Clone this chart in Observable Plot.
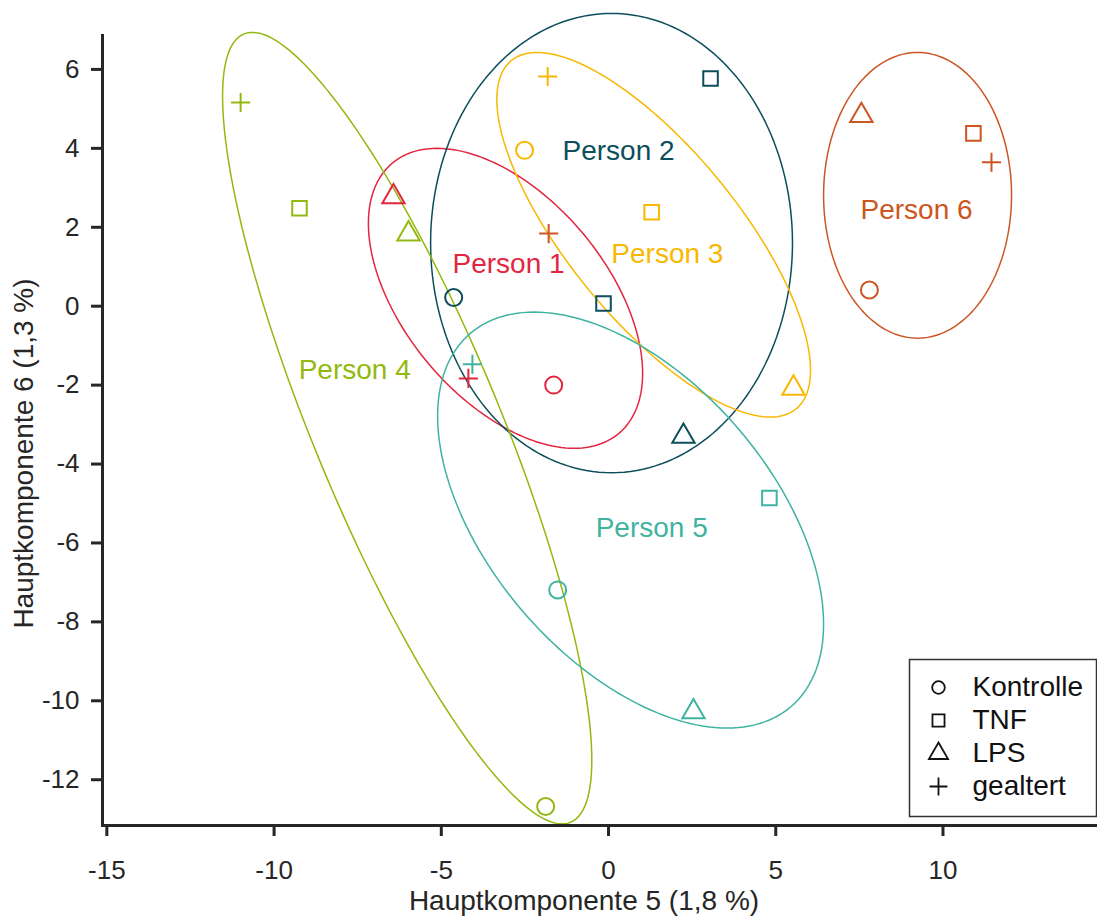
<!DOCTYPE html>
<html>
<head>
<meta charset="utf-8">
<script src="https://cdn.jsdelivr.net/npm/d3@7"></script>
<script src="https://cdn.jsdelivr.net/npm/@observablehq/plot@0.6"></script>
<style>
  body { margin: 0; background: #fff; }
  #wrap { position: relative; width: 1097px; height: 916px; font-family: "Liberation Sans", Arial, sans-serif; }
  #legend { position: absolute; left: 909px; top: 659px; }
  svg { overflow: visible; }
</style>
</head>
<body>
<div id="wrap"><div id="chart"></div><div id="legend"></div></div>
<script>
// ---- categories ----
const persons = ["Person 1", "Person 2", "Person 3", "Person 4", "Person 5", "Person 6"];
const personColors = ["#e2263f", "#0c4e5b", "#f8b700", "#93b910", "#3fb3a0", "#cc5522"];
const treatments = ["Kontrolle", "TNF", "LPS", "gealtert"];
const treatmentSymbols = ["circle", "square", "triangle", "plus"];

// ---- sample points (PC5, PC6) ----
const pointPerson = [
  "Person 1", "Person 1", "Person 1", "Person 6",
  "Person 2", "Person 2", "Person 2", "Person 2",
  "Person 3", "Person 3", "Person 3", "Person 3",
  "Person 4", "Person 4", "Person 4", "Person 4",
  "Person 5", "Person 5", "Person 5", "Person 5",
  "Person 6", "Person 6", "Person 6", "Person 6"
];
const pointTreatment = [
  "LPS", "Kontrolle", "gealtert", "gealtert",
  "Kontrolle", "TNF", "TNF", "LPS",
  "gealtert", "Kontrolle", "TNF", "LPS",
  "gealtert", "TNF", "LPS", "Kontrolle",
  "gealtert", "Kontrolle", "TNF", "LPS",
  "LPS", "TNF", "gealtert", "Kontrolle"
];
const pointPC5 = [
  -6.43, -1.64, -4.19, -1.79,
  -4.63, -0.15, 3.05, 2.24,
  -1.82, -2.51, 1.29, 5.53,
  -11.0, -9.24, -5.98, -1.88,
  -4.07, -1.52, 4.81, 2.54,
  7.56, 10.91, 11.45, 7.80
];
const pointPC6 = [
  2.77, -2.0, -1.83, 1.84,
  0.22, 0.07, 5.77, -3.30,
  5.82, 3.95, 2.38, -2.08,
  5.16, 2.48, 1.83, -12.68,
  -1.47, -7.19, -4.86, -10.28,
  4.83, 4.38, 3.65, 0.41
];

// ---- group ellipses (centre, half extents in x and y, phase between x and y) ----
const ellipseCx = [-3.08, 0.09, 1.35, -6.02, 0.66, 9.24];
const ellipseCy = [0.20, 1.60, 1.81, -3.09, -5.42, 2.81];
const ellipseAx = [4.10, 5.41, 4.69, 5.52, 5.77, 2.81];
const ellipseAy = [3.80, 5.82, 4.62, 10.03, 5.27, 3.62];
const ellipsePhase = [120, 90, 138, 147, 120, 90];

// ---- group labels ----
const labelPC5 = [-2.99, 0.30, 1.76, -7.59, 1.29, 9.21];
const labelPC6 = [1.06, 3.92, 1.32, -1.62, -5.62, 2.43];

// ---- axes ----
const xTicks = [-15, -10, -5, 0, 5, 10];
const yTicks = [-12, -10, -8, -6, -4, -2, 0, 2, 4, 6];
const xTitle = "Hauptkomponente 5 (1,8 %)";
const yTitle = "Hauptkomponente 6 (1,3 %)";

// ---- build tables ----
const points = pointPC5.map((x, i) => ({x, y: pointPC6[i], person: pointPerson[i], treatment: pointTreatment[i]}));
const labels = persons.map((p, i) => ({person: p, x: labelPC5[i], y: labelPC6[i]}));
const outline = [];
persons.forEach((p, i) => {
  const d = ellipsePhase[i] * Math.PI / 180;
  const n = 180;
  for (let k = 0; k < n; k++) {
    const t = 2 * Math.PI * k / n;
    outline.push({person: p, x: ellipseCx[i] + ellipseAx[i] * Math.cos(t), y: ellipseCy[i] + ellipseAy[i] * Math.cos(t - d)});
  }
});

const ink = "#262626";
const mainR = {Kontrolle: 8.5, TNF: 8.2, LPS: 8.3, gealtert: 6.2};
const legendR = {Kontrolle: 6.3, TNF: 6.8, LPS: 7.1, gealtert: 5.8};

const chart = Plot.plot({
  width: 1097,
  height: 916,
  marginLeft: 102,
  marginRight: 0,
  marginTop: 35,
  marginBottom: 91,
  style: {fontFamily: "Liberation Sans, Arial, sans-serif", fontSize: "26px", color: ink, background: "#fff"},
  x: {domain: [-15.13, 14.62]},
  y: {domain: [-13.16, 6.86]},
  color: {domain: persons, range: personColors},
  symbol: {domain: treatments, range: treatmentSymbols},
  marks: [
    Plot.line(outline, {x: "x", y: "y", z: "person", stroke: "person", curve: "linear-closed", strokeWidth: 1.5}),
    ...treatments.map(t => Plot.dot(points.filter(d => d.treatment === t), {
      x: "x", y: "y", stroke: "person", symbol: "treatment", r: mainR[t], strokeWidth: 2, fill: "none"
    })),
    Plot.text(labels, {x: "x", y: "y", text: "person", fill: "person", fontSize: 28}),
    Plot.axisX({ticks: xTicks, tickFormat: d => String(d), tickSize: 11, tickPadding: 24, strokeWidth: 3, fontSize: 26, label: null}),
    Plot.axisY({ticks: yTicks, tickFormat: d => String(d), tickSize: 11, tickPadding: 12, strokeWidth: 3, fontSize: 26, label: null}),
    Plot.frame({anchor: "left", stroke: ink, strokeWidth: 3}),
    Plot.frame({anchor: "bottom", stroke: ink, strokeWidth: 3}),
    Plot.text([xTitle], {frameAnchor: "bottom", textAnchor: "middle", lineAnchor: "middle", dx: -16, dy: 76, fontSize: 28, fill: ink}),
    Plot.text([yTitle], {frameAnchor: "left", textAnchor: "middle", lineAnchor: "middle", rotate: -90, dx: -78, dy: 23, fontSize: 28, fill: ink})
  ]
});
document.getElementById("chart").append(chart);

const legend = Plot.plot({
  width: 187,
  height: 157,
  margin: 0,
  style: {fontFamily: "Liberation Sans, Arial, sans-serif", fontSize: "28px", color: "#111", background: "#fff"},
  y: {type: "point", domain: treatments, range: [27, 128], padding: 0, axis: null},
  symbol: {domain: treatments, range: treatmentSymbols},
  marks: [
    Plot.frame({stroke: "#333", strokeWidth: 1.5, fill: "#fff"}),
    ...treatments.map(t => Plot.dot([t], {y: d => d, symbol: d => d, frameAnchor: "left", dx: 29, r: legendR[t], stroke: "#111", strokeWidth: 1.8, fill: "none"})),
    Plot.text(treatments, {y: d => d, text: d => d, frameAnchor: "left", dx: 63, textAnchor: "start", lineAnchor: "middle", fill: "#111", fontSize: 28})
  ]
});
document.getElementById("legend").append(legend);
</script>
</body>
</html>
